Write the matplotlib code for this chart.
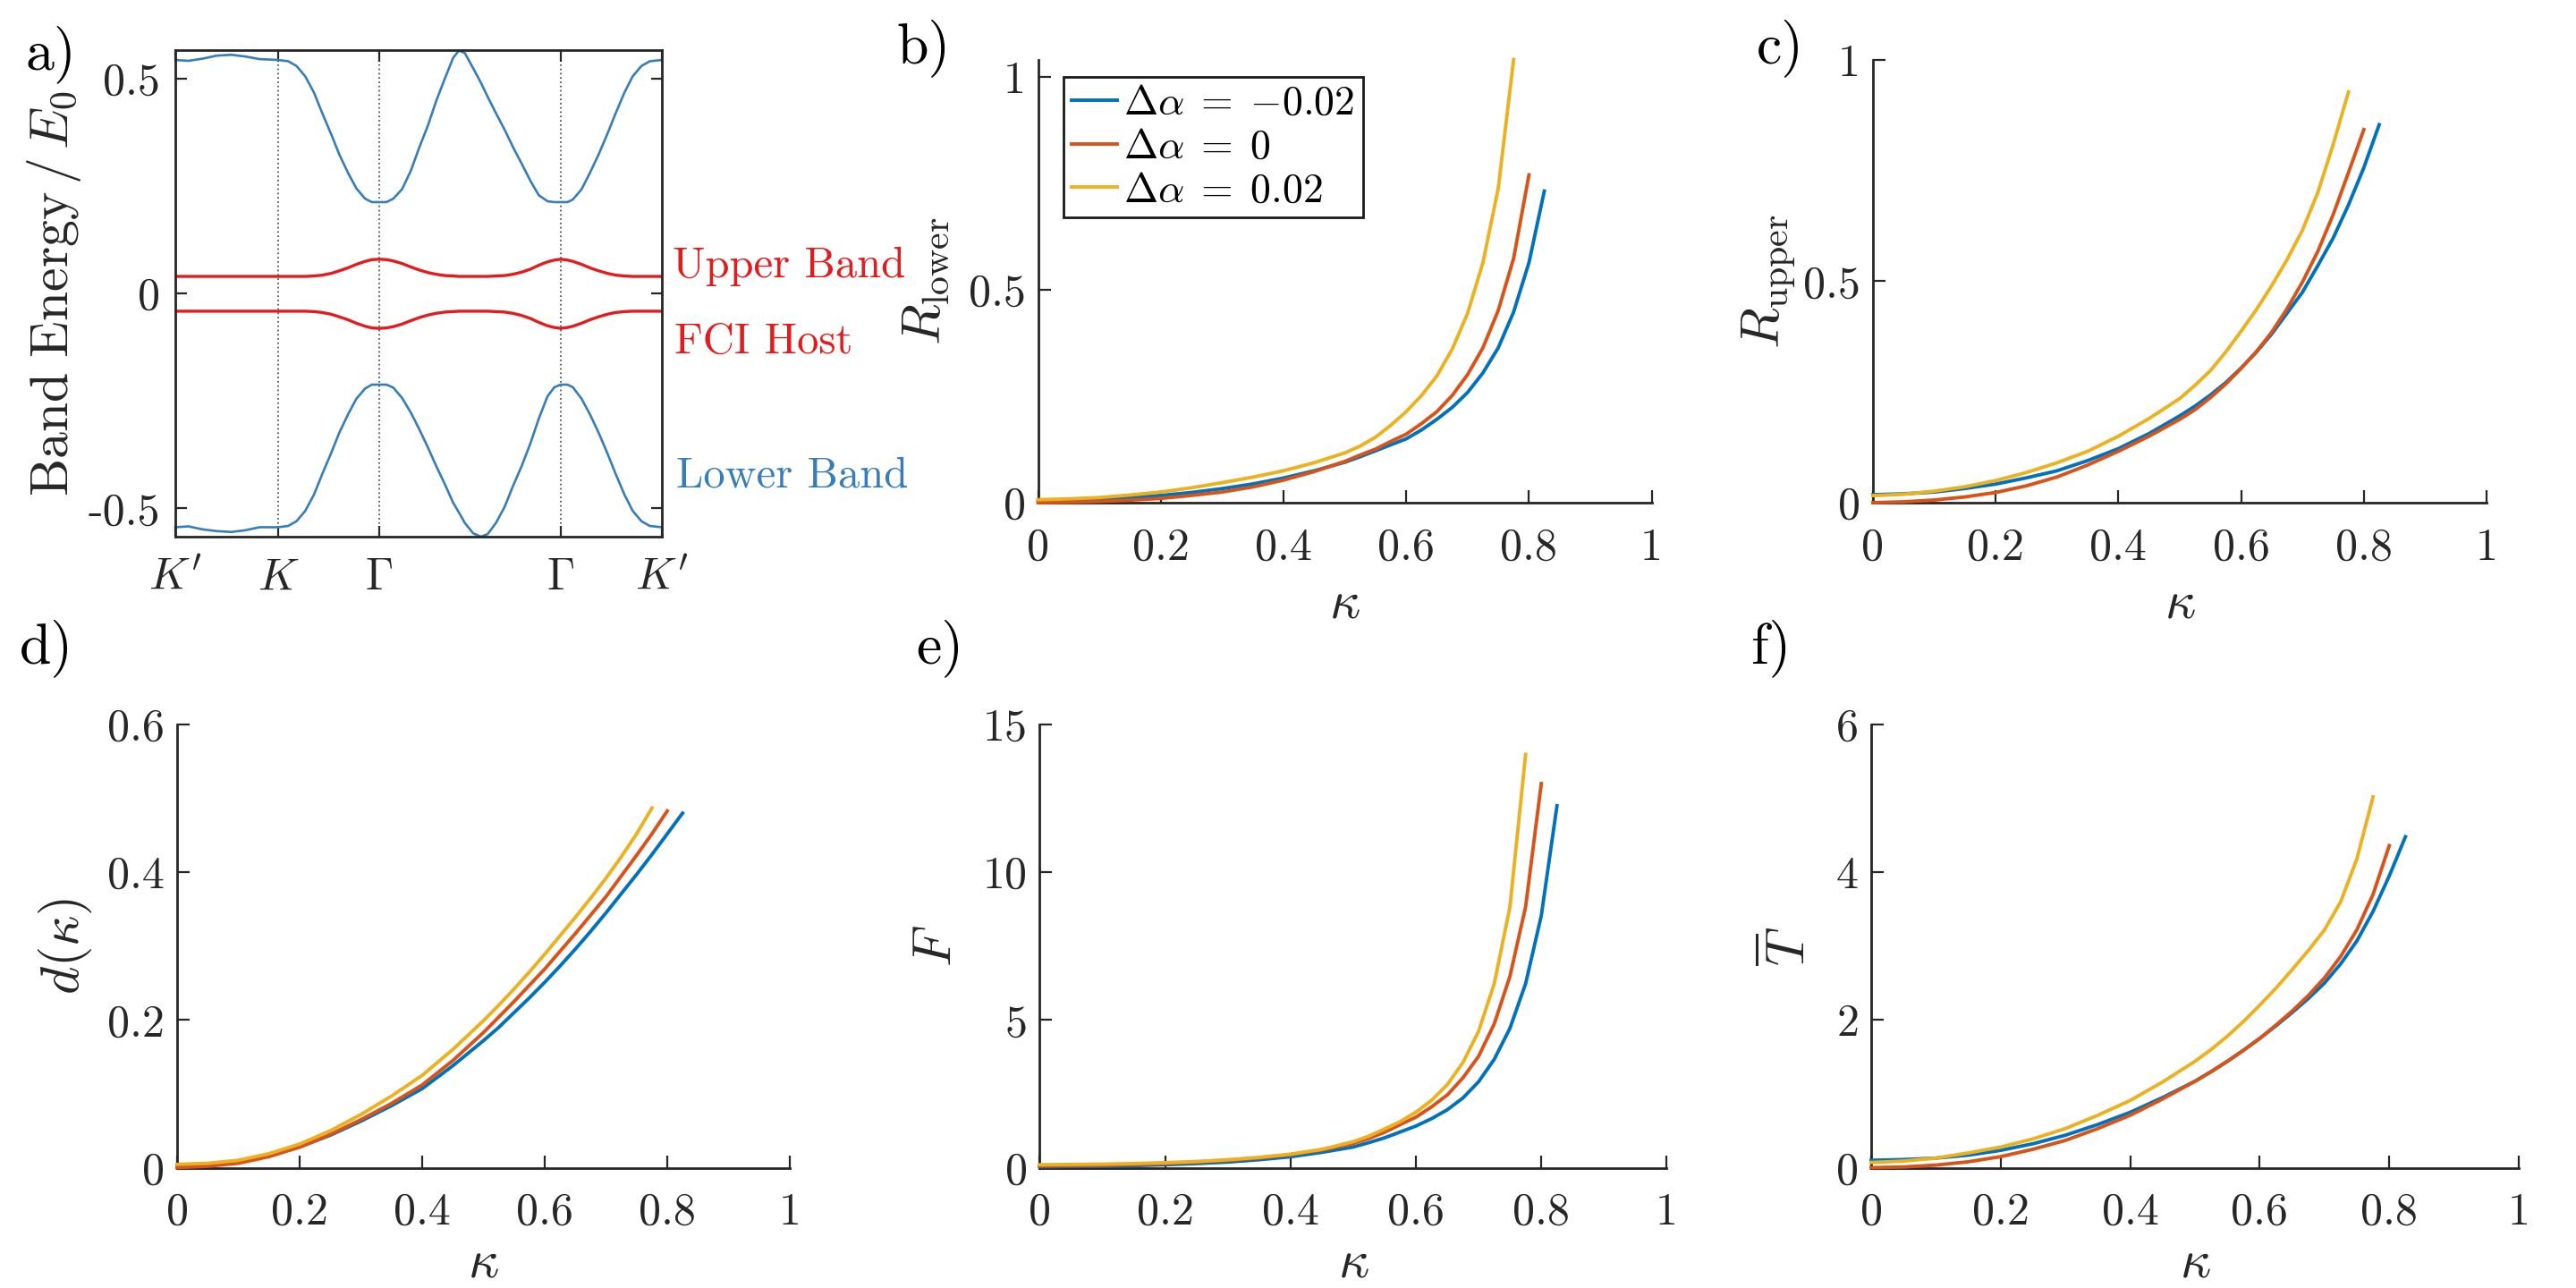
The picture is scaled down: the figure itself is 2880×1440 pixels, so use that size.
import matplotlib.pyplot as plt
from matplotlib import transforms

plt.rcParams['font.family'] = 'serif'
plt.rcParams['font.serif'] = ['cmr10']
plt.rcParams['mathtext.fontset'] = 'cm'
plt.rcParams['axes.unicode_minus'] = False
plt.rcParams['axes.formatter.use_mathtext'] = True

# ---- panel a: band structure along K' K G G K' (path position 0..1)
k_path = [0.0, 0.027, 0.056, 0.085, 0.115, 0.144, 0.173, 0.211, 0.232, 0.249,
          0.267, 0.285, 0.302, 0.320, 0.337, 0.355, 0.372, 0.390, 0.404, 0.419,
          0.434, 0.448, 0.466, 0.484, 0.501, 0.519, 0.536, 0.554, 0.571, 0.583,
          0.595, 0.612, 0.628, 0.642, 0.659, 0.677, 0.694, 0.712, 0.730, 0.747,
          0.765, 0.779, 0.792, 0.806, 0.817, 0.835, 0.852, 0.870, 0.888, 0.905,
          0.923, 0.940, 0.958, 0.975, 1.0]
e_upper = [0.544, 0.542, 0.547, 0.554, 0.556, 0.552, 0.546, 0.544, 0.541, 0.530,
           0.506, 0.468, 0.420, 0.372, 0.324, 0.281, 0.245, 0.221, 0.213, 0.213,
           0.213, 0.221, 0.243, 0.286, 0.339, 0.391, 0.448, 0.501, 0.549, 0.566,
           0.560, 0.525, 0.491, 0.458, 0.420, 0.381, 0.341, 0.302, 0.262, 0.229,
           0.215, 0.213, 0.213, 0.213, 0.219, 0.243, 0.281, 0.324, 0.372, 0.420,
           0.468, 0.506, 0.530, 0.541, 0.544]
e_lower = [-0.544, -0.542, -0.549, -0.553, -0.555, -0.551, -0.544, -0.544, -0.541, -0.530,
           -0.506, -0.468, -0.420, -0.372, -0.324, -0.281, -0.245, -0.221, -0.212, -0.212,
           -0.212, -0.219, -0.243, -0.277, -0.315, -0.358, -0.401, -0.444, -0.487, -0.510,
           -0.534, -0.558, -0.566, -0.560, -0.534, -0.496, -0.448, -0.401, -0.348, -0.291,
           -0.239, -0.218, -0.212, -0.212, -0.218, -0.245, -0.281, -0.324, -0.372, -0.420,
           -0.468, -0.506, -0.530, -0.541, -0.544]
e_flat_up = [0.040, 0.040, 0.040, 0.040, 0.040, 0.040, 0.040, 0.040, 0.040, 0.040,
             0.040, 0.041, 0.043, 0.047, 0.053, 0.060, 0.068, 0.075, 0.079, 0.080,
             0.079, 0.076, 0.070, 0.062, 0.055, 0.049, 0.045, 0.042, 0.041, 0.040,
             0.040, 0.040, 0.040, 0.040, 0.041, 0.042, 0.045, 0.050, 0.057, 0.066,
             0.074, 0.078, 0.080, 0.078, 0.075, 0.068, 0.060, 0.053, 0.047, 0.043,
             0.041, 0.040, 0.040, 0.040, 0.040]
e_flat_dn = [-0.041, -0.041, -0.041, -0.041, -0.041, -0.041, -0.041, -0.041, -0.041, -0.041,
             -0.041, -0.042, -0.044, -0.048, -0.054, -0.061, -0.069, -0.076, -0.080, -0.081,
             -0.080, -0.077, -0.071, -0.063, -0.056, -0.050, -0.046, -0.043, -0.042, -0.041,
             -0.041, -0.041, -0.041, -0.041, -0.042, -0.043, -0.046, -0.051, -0.058, -0.067,
             -0.075, -0.079, -0.081, -0.079, -0.076, -0.069, -0.061, -0.054, -0.048, -0.044,
             -0.042, -0.041, -0.041, -0.041, -0.041]
hs_pos = [0.0, 0.211, 0.419, 0.792, 1.0]
hs_labels = [r"$K'$", r"$K$", r"$\Gamma$", r"$\Gamma$", r"$K'$"]

# ---- panels b-f: quantities vs kappa for three detunings
kappa_pos = [0, 0.05, 0.1, 0.15, 0.2, 0.25, 0.3, 0.35, 0.4, 0.45, 0.5, 0.525, 0.55,
             0.575, 0.6, 0.625, 0.65, 0.675, 0.7, 0.725, 0.75, 0.775]
kappa_zero = kappa_pos + [0.8]
kappa_neg = kappa_pos + [0.8, 0.825]

r_lower_neg = [0.005, 0.006, 0.008, 0.012, 0.017, 0.024, 0.033, 0.044, 0.058, 0.075,
               0.095, 0.108, 0.122, 0.136, 0.150, 0.171, 0.196, 0.224, 0.259, 0.305,
               0.364, 0.448, 0.564, 0.732]
r_lower_zero = [0.0, 0.001, 0.003, 0.006, 0.010, 0.017, 0.025, 0.037, 0.053, 0.073,
                0.097, 0.112, 0.126, 0.144, 0.161, 0.186, 0.214, 0.252, 0.301, 0.364,
                0.452, 0.574, 0.770]
r_lower_pos = [0.007, 0.009, 0.012, 0.018, 0.025, 0.035, 0.047, 0.060, 0.075, 0.094,
               0.117, 0.133, 0.154, 0.182, 0.214, 0.252, 0.298, 0.361, 0.445, 0.564,
               0.739, 1.041]

r_upper_neg = [0.018, 0.020, 0.024, 0.032, 0.042, 0.056, 0.072, 0.095, 0.122, 0.156,
               0.196, 0.218, 0.243, 0.271, 0.304, 0.340, 0.381, 0.428, 0.475, 0.535,
               0.597, 0.672, 0.756, 0.853]
r_upper_zero = [0.0, 0.002, 0.006, 0.013, 0.023, 0.038, 0.058, 0.085, 0.116, 0.150,
                0.188, 0.210, 0.237, 0.268, 0.303, 0.341, 0.385, 0.438, 0.498, 0.567,
                0.650, 0.745, 0.842]
r_upper_pos = [0.016, 0.019, 0.026, 0.036, 0.050, 0.068, 0.090, 0.116, 0.150, 0.190,
               0.235, 0.265, 0.298, 0.340, 0.387, 0.436, 0.490, 0.549, 0.615, 0.700,
               0.808, 0.927]

d_neg = [0.003, 0.004, 0.007, 0.016, 0.028, 0.044, 0.063, 0.084, 0.107, 0.138,
         0.172, 0.190, 0.210, 0.230, 0.251, 0.273, 0.296, 0.320, 0.345, 0.371,
         0.397, 0.424, 0.452, 0.480]
d_zero = [0.0, 0.002, 0.006, 0.015, 0.028, 0.045, 0.065, 0.087, 0.112, 0.145,
          0.183, 0.204, 0.225, 0.247, 0.269, 0.293, 0.317, 0.342, 0.367, 0.395,
          0.423, 0.452, 0.483]
d_pos = [0.0045, 0.006, 0.010, 0.019, 0.032, 0.050, 0.072, 0.097, 0.125, 0.160,
         0.199, 0.220, 0.242, 0.265, 0.289, 0.314, 0.339, 0.365, 0.392, 0.421,
         0.452, 0.487]

f_neg = [0.03, 0.04, 0.05, 0.07, 0.10, 0.14, 0.19, 0.27, 0.37, 0.52,
         0.70, 0.85, 1.01, 1.21, 1.41, 1.66, 1.96, 2.36, 2.91, 3.67,
         4.72, 6.23, 8.53, 12.25]
f_zero = [0.06, 0.07, 0.08, 0.11, 0.14, 0.19, 0.25, 0.33, 0.44, 0.60,
          0.82, 0.99, 1.20, 1.46, 1.71, 2.06, 2.46, 3.04, 3.77, 4.87,
          6.48, 8.83, 13.00]
f_pos = [0.10, 0.11, 0.12, 0.14, 0.17, 0.21, 0.27, 0.35, 0.46, 0.62,
         0.88, 1.07, 1.31, 1.56, 1.88, 2.28, 2.81, 3.56, 4.62, 6.23,
         8.83, 13.99]

t_neg = [0.10, 0.11, 0.13, 0.17, 0.235, 0.325, 0.44, 0.585, 0.75, 0.95,
         1.17, 1.30, 1.44, 1.59, 1.75, 1.92, 2.10, 2.29, 2.50, 2.76,
         3.07, 3.47, 3.95, 4.48]
t_zero = [0.0, 0.01, 0.035, 0.08, 0.15, 0.25, 0.37, 0.53, 0.71, 0.93,
          1.17, 1.30, 1.44, 1.59, 1.75, 1.93, 2.12, 2.33, 2.57, 2.86,
          3.22, 3.70, 4.36]
t_pos = [0.07, 0.09, 0.13, 0.20, 0.28, 0.39, 0.53, 0.71, 0.91, 1.16,
         1.44, 1.60, 1.78, 1.98, 2.20, 2.43, 2.68, 2.94, 3.22, 3.60,
         4.18, 5.02]

legend_labels = [r'$\Delta\alpha\;=\;{-0.02}$', r'$\Delta\alpha\;=\;0$', r'$\Delta\alpha\;=\;0.02$']
colors = ['#0072BD', '#D95319', '#EDB120']
axis_col = '#262626'
band_red = '#E41A1C'
band_blue = '#377EB8'

fig = plt.figure(figsize=(28.8, 14.4), dpi=100)

# ---- panel a
ax = fig.add_axes([0.06806, 0.58299, 0.18889, 0.37813])
for x in hs_pos[1:4]:
    ax.axvline(x, color='#555555', linestyle=':', linewidth=1.3, zorder=1)
ax.plot(k_path, e_upper, color=band_blue, linewidth=1.9, zorder=2)
ax.plot(k_path, e_lower, color=band_blue, linewidth=1.9, zorder=2)
ax.plot(k_path, e_flat_up, color=band_red, linewidth=2.4, zorder=2)
ax.plot(k_path, e_flat_dn, color=band_red, linewidth=2.4, zorder=2)
ax.set_xlim(0, 1)
ax.set_ylim(-0.567, 0.567)
ax.set_xticks(hs_pos)
ax.set_xticklabels(hs_labels)
ax.set_yticks([-0.5, 0, 0.5])
ax.set_yticklabels(['-0.5', '0', '0.5'])
ax.tick_params(axis='both', direction='in', length=9, width=1.6, top=True, right=True,
               labelsize=36, colors=axis_col)
ax.tick_params(axis='x', pad=16)
ax.tick_params(axis='y', pad=12)
for sp in ax.spines.values():
    sp.set_linewidth(2.0)
    sp.set_color(axis_col)
ax.set_ylabel(r'$\mathrm{Band\ Energy}\,/\,E_0$', fontsize=43, color=axis_col)
ax.yaxis.set_label_coords(-0.25, 0.5)
ax.yaxis.label.set_va('center')
tr = transforms.blended_transform_factory(ax.transAxes, ax.transData)
ax.text(1.022, 0.037, 'Upper Band', transform=tr, color=band_red, fontsize=35,
        va='baseline', ha='left', clip_on=False)
ax.text(1.026, -0.139, 'FCI Host', transform=tr, color=band_red, fontsize=35,
        va='baseline', ha='left', clip_on=False)
ax.text(1.029, -0.451, 'Lower Band', transform=tr, color=band_blue, fontsize=35,
        va='baseline', ha='left', clip_on=False)


def kappa_panel(rect, ys, ylim, yticks, yticklabels, ylabel, ylab_x, xlab_y):
    axk = fig.add_axes(rect)
    kaps = [kappa_neg, kappa_zero, kappa_pos]
    lines = []
    for kap, y, c in zip(kaps, ys, colors):
        ln, = axk.plot(kap, y, color=c, linewidth=2.8, zorder=3, clip_on=False)
        lines.append(ln)
    axk.set_xlim(0, 1)
    axk.set_ylim(*ylim)
    axk.set_xticks([0, 0.2, 0.4, 0.6, 0.8, 1])
    axk.set_xticklabels(['0', '0.2', '0.4', '0.6', '0.8', '1'])
    axk.set_yticks(yticks)
    axk.set_yticklabels(yticklabels)
    axk.spines['top'].set_visible(False)
    axk.spines['right'].set_visible(False)
    for s in ['left', 'bottom']:
        axk.spines[s].set_linewidth(2.0)
        axk.spines[s].set_color(axis_col)
    axk.tick_params(axis='both', direction='in', length=10, width=1.6,
                    labelsize=36, colors=axis_col)
    axk.tick_params(axis='x', pad=20)
    axk.tick_params(axis='y', pad=10)
    axk.set_xlabel(r'$\kappa$', fontsize=43, color=axis_col)
    axk.xaxis.set_label_coords(0.5, xlab_y)
    axk.xaxis.label.set_va('center')
    axk.set_ylabel(ylabel, fontsize=43, color=axis_col)
    axk.yaxis.set_label_coords(ylab_x, 0.5)
    axk.yaxis.label.set_va('center')
    return axk, lines


ax_b, lines_b = kappa_panel([0.40299, 0.60972, 0.23819, 0.34403],
                            [r_lower_neg, r_lower_zero, r_lower_pos],
                            (0, 1.041), [0, 0.5, 1], ['0', '0.5', '1'],
                            r'$R_{\mathrm{lower}}$', -0.182, -0.232)
ax_c, _ = kappa_panel([0.72708, 0.60972, 0.23819, 0.34403],
                      [r_upper_neg, r_upper_zero, r_upper_pos],
                      (0, 1), [0, 0.5, 1], ['0', '0.5', '1'],
                      r'$R_{\mathrm{upper}}$', -0.171, -0.232)
ax_d, _ = kappa_panel([0.06875, 0.09340, 0.23785, 0.34410],
                      [d_neg, d_zero, d_pos],
                      (0, 0.6), [0, 0.2, 0.4, 0.6], ['0', '0.2', '0.4', '0.6'],
                      r'$d(\kappa)$', -0.183, -0.218)
ax_e, _ = kappa_panel([0.40361, 0.09340, 0.24340, 0.34410],
                      [f_neg, f_zero, f_pos],
                      (0, 15), [0, 5, 10, 15], ['0', '5', '10', '15'],
                      r'$F$', -0.163, -0.218)
ax_f, _ = kappa_panel([0.72639, 0.09340, 0.25139, 0.34410],
                      [t_neg, t_zero, t_pos],
                      (0, 6), [0, 2, 4, 6], ['0', '2', '4', '6'],
                      r'$\overline{T}$', -0.127, -0.218)

leg = ax_b.legend(lines_b, legend_labels, loc='upper left', bbox_to_anchor=(0.0414, 0.960),
                  borderaxespad=0, fontsize=33, frameon=True, fancybox=False,
                  edgecolor='#1a1a1a', framealpha=1, handlelength=1.1,
                  handletextpad=0.17, borderpad=0.2, labelspacing=0.15)
leg.get_frame().set_linewidth(2.0)

# panel letters
for x, y, s in [(0.010, 0.958, 'a)'), (0.348, 0.9625, 'b)'), (0.682, 0.9625, 'c)'),
                (0.0076, 0.4965, 'd)'), (0.3556, 0.4965, 'e)'), (0.680, 0.4965, 'f)')]:
    fig.text(x, y, s, fontsize=46, va='center', ha='left', color='black')

fig.savefig('out.png', dpi=100)
